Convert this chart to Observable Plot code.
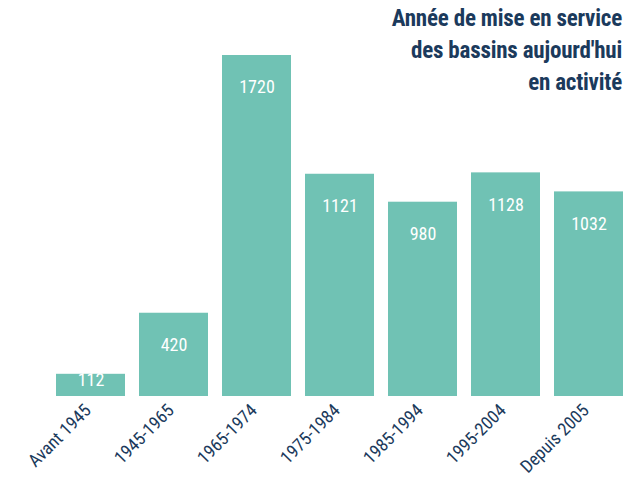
<!DOCTYPE html>
<html>
<head>
<meta charset="utf-8">
<script src="https://cdn.jsdelivr.net/npm/d3@7"></script>
<script src="https://cdn.jsdelivr.net/npm/@observablehq/plot@0.6"></script>
<style>
  body { margin: 0; background: #fff; }
  #wrap { position: relative; width: 630px; height: 478px; }
  #title {
    position: absolute; right: 8px; top: 3px; text-align: right;
    font-family: "Roboto Condensed", "Roboto", sans-serif;
    font-stretch: condensed; font-weight: bold; font-size: 23px; line-height: 32px;
    letter-spacing: -0.2px;
    color: #1b3a5c;
  }
  svg text { font-stretch: condensed; }
</style>
</head>
<body>
<div id="wrap">
  <div id="chart"></div>
  <div id="title">Année de mise en service<br>des bassins aujourd'hui<br>en activité</div>
</div>
<script>
const periods = ["Avant 1945", "1945-1965", "1965-1974", "1975-1984", "1985-1994", "1995-2004", "Depuis 2005"];
const counts = [112, 420, 1720, 1121, 980, 1128, 1032];

const data = periods.map((p, i) => ({period: p, value: counts[i]}));
const font = "'Roboto Condensed', Roboto, sans-serif";

const chart = Plot.plot({
  width: 630,
  height: 478,
  marginTop: 55,
  marginBottom: 82,
  marginLeft: 55,
  marginRight: 7,
  style: {fontFamily: font, fontSize: "18px", color: "#1b3a5c", background: "#fff"},
  x: {domain: periods, paddingInner: 0.17, paddingOuter: 0, label: null},
  y: {domain: [0, 1720], axis: null},
  marks: [
    Plot.barY(data, {x: "period", y: "value", fill: "#70c2b4"}),
    Plot.text(data.filter(d => d.value >= 300), {x: "period", y: "value", text: d => String(d.value), dy: 32, fill: "#fff", fontSize: 18}),
    Plot.text(data.filter(d => d.value < 300), {x: "period", text: d => String(d.value), frameAnchor: "bottom", dy: -11, fill: "#fff", fontSize: 18}),
    Plot.axisX({tickRotate: -45, tickSize: 0, tickPadding: 11, fontSize: 18, dx: -3, fill: "#1b3a5c", label: null})
  ]
});
document.getElementById("chart").appendChild(chart);
</script>
</body>
</html>
